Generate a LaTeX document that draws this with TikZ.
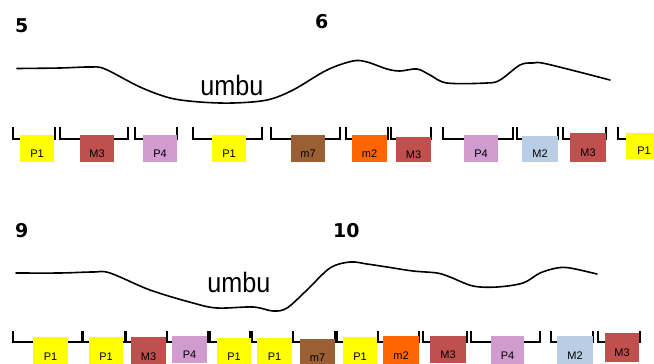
\documentclass[tikz,border=0pt]{standalone}
\usepackage{fontspec}
\setmainfont{Liberation Sans}
\newfontfamily\numfont{DejaVu Sans}
\usetikzlibrary{positioning}
\definecolor{pyellow}{HTML}{FFFF00}
\definecolor{mred}{HTML}{C0504D}
\definecolor{plilac}{HTML}{D09BCF}
\definecolor{mbrown}{HTML}{9A5F33}
\definecolor{morange}{HTML}{FF6600}
\definecolor{mblue}{HTML}{B9CDE5}
\tikzset{
  notebox/.style={inner sep=0pt, text height=17pt, text depth=0pt,
    font=\fontsize{11}{11}\selectfont},
  bracket/.style={line width=1.6pt},
  contour/.style={line width=1.6pt, line cap=round},
  panelnum/.style={font=\numfont\bfseries\fontsize{19}{19}\selectfont,
    inner sep=0pt, anchor=base west},
  umbutext/.style={font=\fontsize{28}{28}\selectfont, inner sep=0pt,
    anchor=base, xscale=0.9}
}
\begin{document}
\begin{tikzpicture}[x=1pt,y=-1pt]
  \useasboundingbox (0,0) rectangle (654,364);
  % bar numbers
  \node[panelnum] (num5) at (15,32) {5};
  \node[panelnum] (num6) at (315,28) {6};
  \node[panelnum] (num9) at (15,237) {9};
  \node[panelnum] (num10) at (333,237) {10};
  % melodic contour
  \draw[contour] plot[smooth,tension=0.55] coordinates {(17,68.5) (60,68) (90,67) (105,69)
    (140,87) (170,98) (200,102) (233,103) (267,100) (293,90) (327,70) (353,61) (367,62)
    (387,69) (400,71) (417,69) (430,75) (447,83) (487,83) (500,80) (520,65) (533,63)
    (547,64) (610,80)};
  \draw[contour] plot[smooth,tension=0.55] coordinates {(16,273) (60,273) (93,272) (110,273)
    (150,290) (193,303) (217,308) (253,307) (273,311) (287,308) (307,290) (330,268)
    (350,262) (367,264) (387,267) (413,271) (437,273) (450,277) (473,286) (497,287)
    (523,283) (540,273) (557,268) (570,268) (597,274)};
  \node[umbutext] (umbuA) at (232,95) {umbu};
  \node[umbutext] (umbuB) at (239,292) {umbu};
  % brackets
  \foreach \xl/\xr in {13/55,60/128,135/177,193/262,271/340,346/388,391/431,443/513,
      517/558,563/606,618/662}
    \draw[bracket] (\xl,127) -- (\xl,139) -- (\xr,139) -- (\xr,127);
  \foreach \xl/\xr in {13/82,83/125,126/167,167/208,210/250,252/293,293/335,337/378,
      378/419,423/467,471/540,551/593,598/640}
    \draw[bracket] (\xl,331) -- (\xl,342) -- (\xr,342) -- (\xr,331);
  % notes
  \foreach \xl/\xr/\yt/\yb/\col/\lab [count=\i] in {20/54/135/162/pyellow/P1,
      80/114/135/162/mred/M3, 143/177/135/162/plilac/P4, 212/246/135/162/pyellow/P1,
      291/325/135/162/mbrown/m7, 352/387/135/162/morange/m2, 396/431/137/162/mred/M3,
      464/498/135/162/plilac/P4, 522/558/136/162/mblue/M2, 570/606/133/162/mred/M3,
      626/662/133/159/pyellow/P1}
    \node[notebox, fill=\col, minimum width=\xr-\xl, minimum height=\yb-\yt]
      (top\i) at ({(\xl+\xr)/2},{(\yt+\yb)/2}) {\lab};
  \foreach \xl/\xr/\yt/\yb/\col/\lab [count=\i] in {33/68/337/366/pyellow/P1,
      89/123/337/366/pyellow/P1, 131/166/337/366/mred/M3, 172/207/336/363/plilac/P4,
      217/251/338/366/pyellow/P1, 257/292/338/366/pyellow/P1, 300/335/339/366/mbrown/m7,
      343/377/337/366/pyellow/P1, 383/419/336/366/morange/m2, 430/466/336/363/mred/M3,
      491/524/336/366/plilac/P4, 557/593/336/366/mblue/M2, 605/639/333/362/mred/M3}
    \node[notebox, fill=\col, minimum width=\xr-\xl, minimum height=\yb-\yt]
      (bot\i) at ({(\xl+\xr)/2},{(\yt+\yb)/2}) {\lab};
\end{tikzpicture}
\end{document}
